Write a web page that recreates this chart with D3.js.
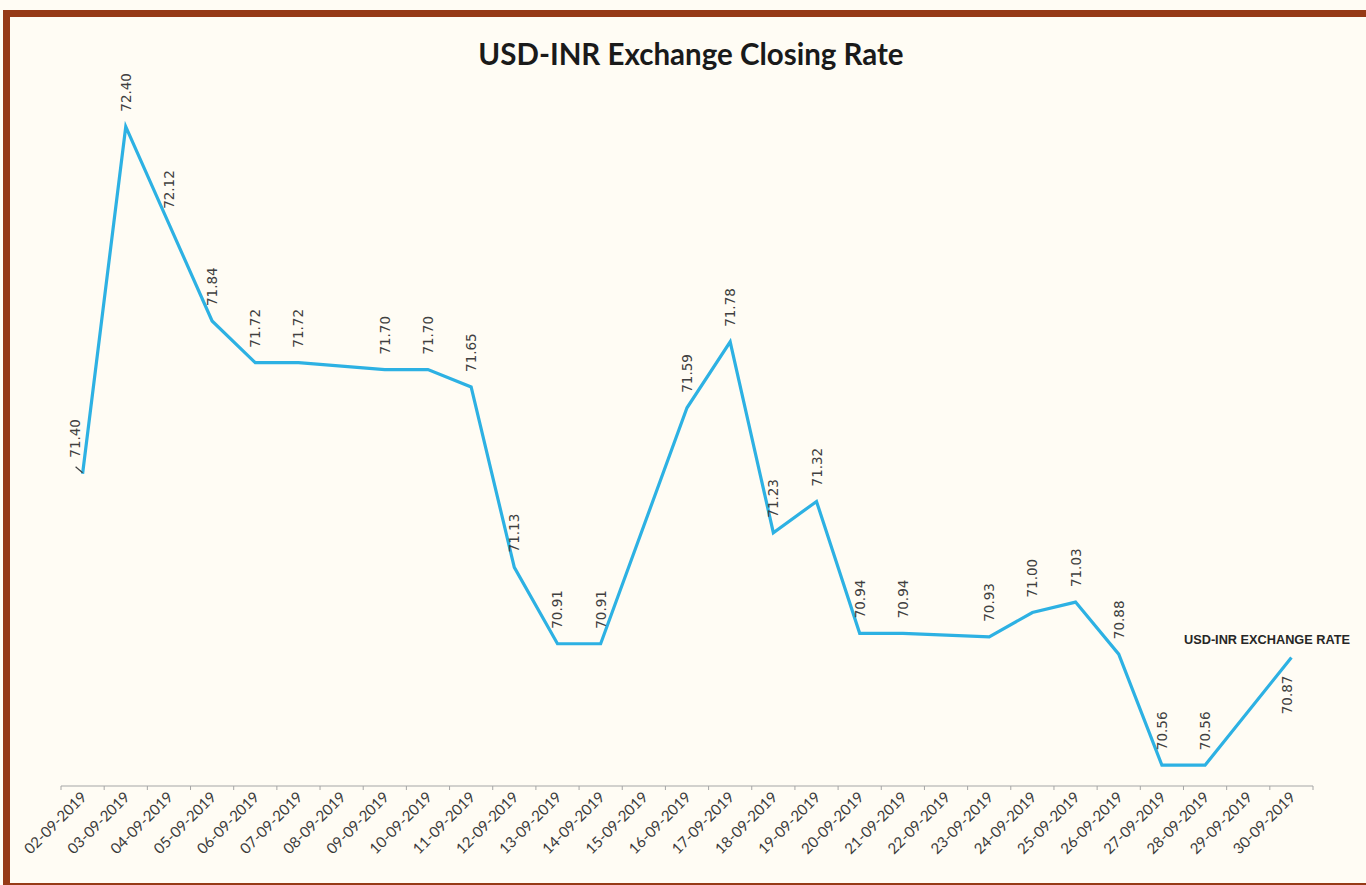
<!DOCTYPE html>
<html>
<head>
<meta charset="utf-8">
<script src="https://cdn.jsdelivr.net/npm/d3@7"></script>
<style>
  html, body { margin: 0; padding: 0; background: #fffcf4; }
  svg { display: block; }
</style>
</head>
<body>
<div id="chart-container"></div>
<script>
// Data
const dates = [
    '02-09-2019', '03-09-2019', '04-09-2019', '05-09-2019', '06-09-2019', '07-09-2019', '08-09-2019',
    '09-09-2019', '10-09-2019', '11-09-2019', '12-09-2019', '13-09-2019', '14-09-2019', '15-09-2019',
    '16-09-2019', '17-09-2019', '18-09-2019', '19-09-2019', '20-09-2019', '21-09-2019', '22-09-2019',
    '23-09-2019', '24-09-2019', '25-09-2019', '26-09-2019', '27-09-2019', '28-09-2019', '29-09-2019',
    '30-09-2019'
];
const rates = [
    71.40, 72.40, 72.12, 71.84, 71.72, 71.72, null,
    71.70, 71.70, 71.65, 71.13, 70.91, 70.91, null,
    71.59, 71.78, 71.23, 71.32, 70.94, 70.94, null,
    70.93, 71.00, 71.03, 70.88, 70.56, 70.56, null,
    70.87
];
const seriesName = 'USD-INR EXCHANGE RATE';
const chartTitle = 'USD-INR Exchange Closing Rate';

const W = 1366, H = 885;
const plot = { left: 61, right: 1313, top: 92, bottom: 786 };

const svg = d3.select('#chart-container').append('svg')
    .attr('width', W)
    .attr('height', H);

// Frame
svg.append('rect')
    .attr('x', 6.5).attr('y', 13.5)
    .attr('width', 1400).attr('height', 873)
    .attr('fill', '#fffcf4')
    .attr('stroke', '#963a16')
    .attr('stroke-width', 7);

const x = d3.scaleBand()
    .domain(dates)
    .range([plot.left, plot.right])
    .padding(0);

const y = d3.scaleLinear()
    .domain([70.5, 72.5])
    .range([plot.bottom, plot.top]);

const cx = d => x(d) + x.bandwidth() / 2;

// Title
svg.append('text')
    .attr('x', 691)
    .attr('y', 65)
    .attr('text-anchor', 'middle')
    .style('font-family', 'Lato, "Open Sans", sans-serif')
    .style('font-weight', 'bold')
    .style('font-size', '29.5px')
    .attr('fill', '#1a1a1a')
    .text(chartTitle);

// X axis
const xAxis = svg.append('g')
    .attr('transform', `translate(0,${plot.bottom})`);

xAxis.append('line')
    .attr('x1', plot.left).attr('x2', plot.right)
    .attr('stroke', '#a6a6a6').attr('stroke-width', 1.2);

xAxis.selectAll('.tick-mark')
    .data(dates.concat(['end']))
    .enter().append('line')
    .attr('class', 'tick-mark')
    .attr('x1', (d, i) => plot.left + i * x.bandwidth())
    .attr('x2', (d, i) => plot.left + i * x.bandwidth())
    .attr('y1', 0).attr('y2', 4)
    .attr('stroke', '#a6a6a6');

xAxis.selectAll('.tick-label')
    .data(dates)
    .enter().append('text')
    .attr('class', 'tick-label')
    .attr('transform', d => `translate(${cx(d) + 5},${12}) rotate(-45)`)
    .attr('text-anchor', 'end')
    .style('font-family', 'Lato, "Open Sans", sans-serif')
    .style('font-size', '15px')
    .attr('fill', '#3a3a3a')
    .text(d => d);

// Line (gaps are bridged)
const points = dates.map((d, i) => ({ date: d, value: rates[i] }))
    .filter(p => p.value !== null);

const line = d3.line()
    .x(p => cx(p.date))
    .y(p => y(p.value));

svg.append('path')
    .datum(points)
    .attr('d', line)
    .attr('fill', 'none')
    .attr('stroke', '#2db1e3')
    .attr('stroke-width', 3.2);

// Data labels
const labels = svg.append('g')
    .style('font-family', '"DejaVu Sans", Verdana, sans-serif')
    .style('font-size', '13.5px')
    .attr('fill', '#404040');

points.forEach((p, i) => {
    const px = cx(p.date), py = y(p.value);
    const last = i === points.length - 1;
    const first = i === 0;
    let lx = px + 5, ly = py - 15, anchor = 'start';
    if (first) {
        lx = px - 3; ly = py - 16;
        svg.append('line')
            .attr('x1', px).attr('y1', py - 1)
            .attr('x2', px - 7).attr('y2', py - 7)
            .attr('stroke', '#404040').attr('stroke-width', 1.2);
    }
    if (last) {
        lx = px + 1; ly = py + 18; anchor = 'end';
    }
    labels.append('text')
        .attr('transform', `translate(${lx},${ly}) rotate(-90)`)
        .attr('text-anchor', anchor)
        .text(p.value.toFixed(2));
});

// Series name label
const lastPt = points[points.length - 1];
svg.append('text')
    .attr('x', 1184)
    .attr('y', y(lastPt.value) - 14)
    .attr('textLength', 166)
    .attr('lengthAdjust', 'spacingAndGlyphs')
    .style('font-family', '"Liberation Sans Narrow", "Arial Narrow", sans-serif')
    .style('font-weight', 'bold')
    .style('font-size', '13.5px')
    .attr('fill', '#262626')
    .text(seriesName);
</script>
</body>
</html>
